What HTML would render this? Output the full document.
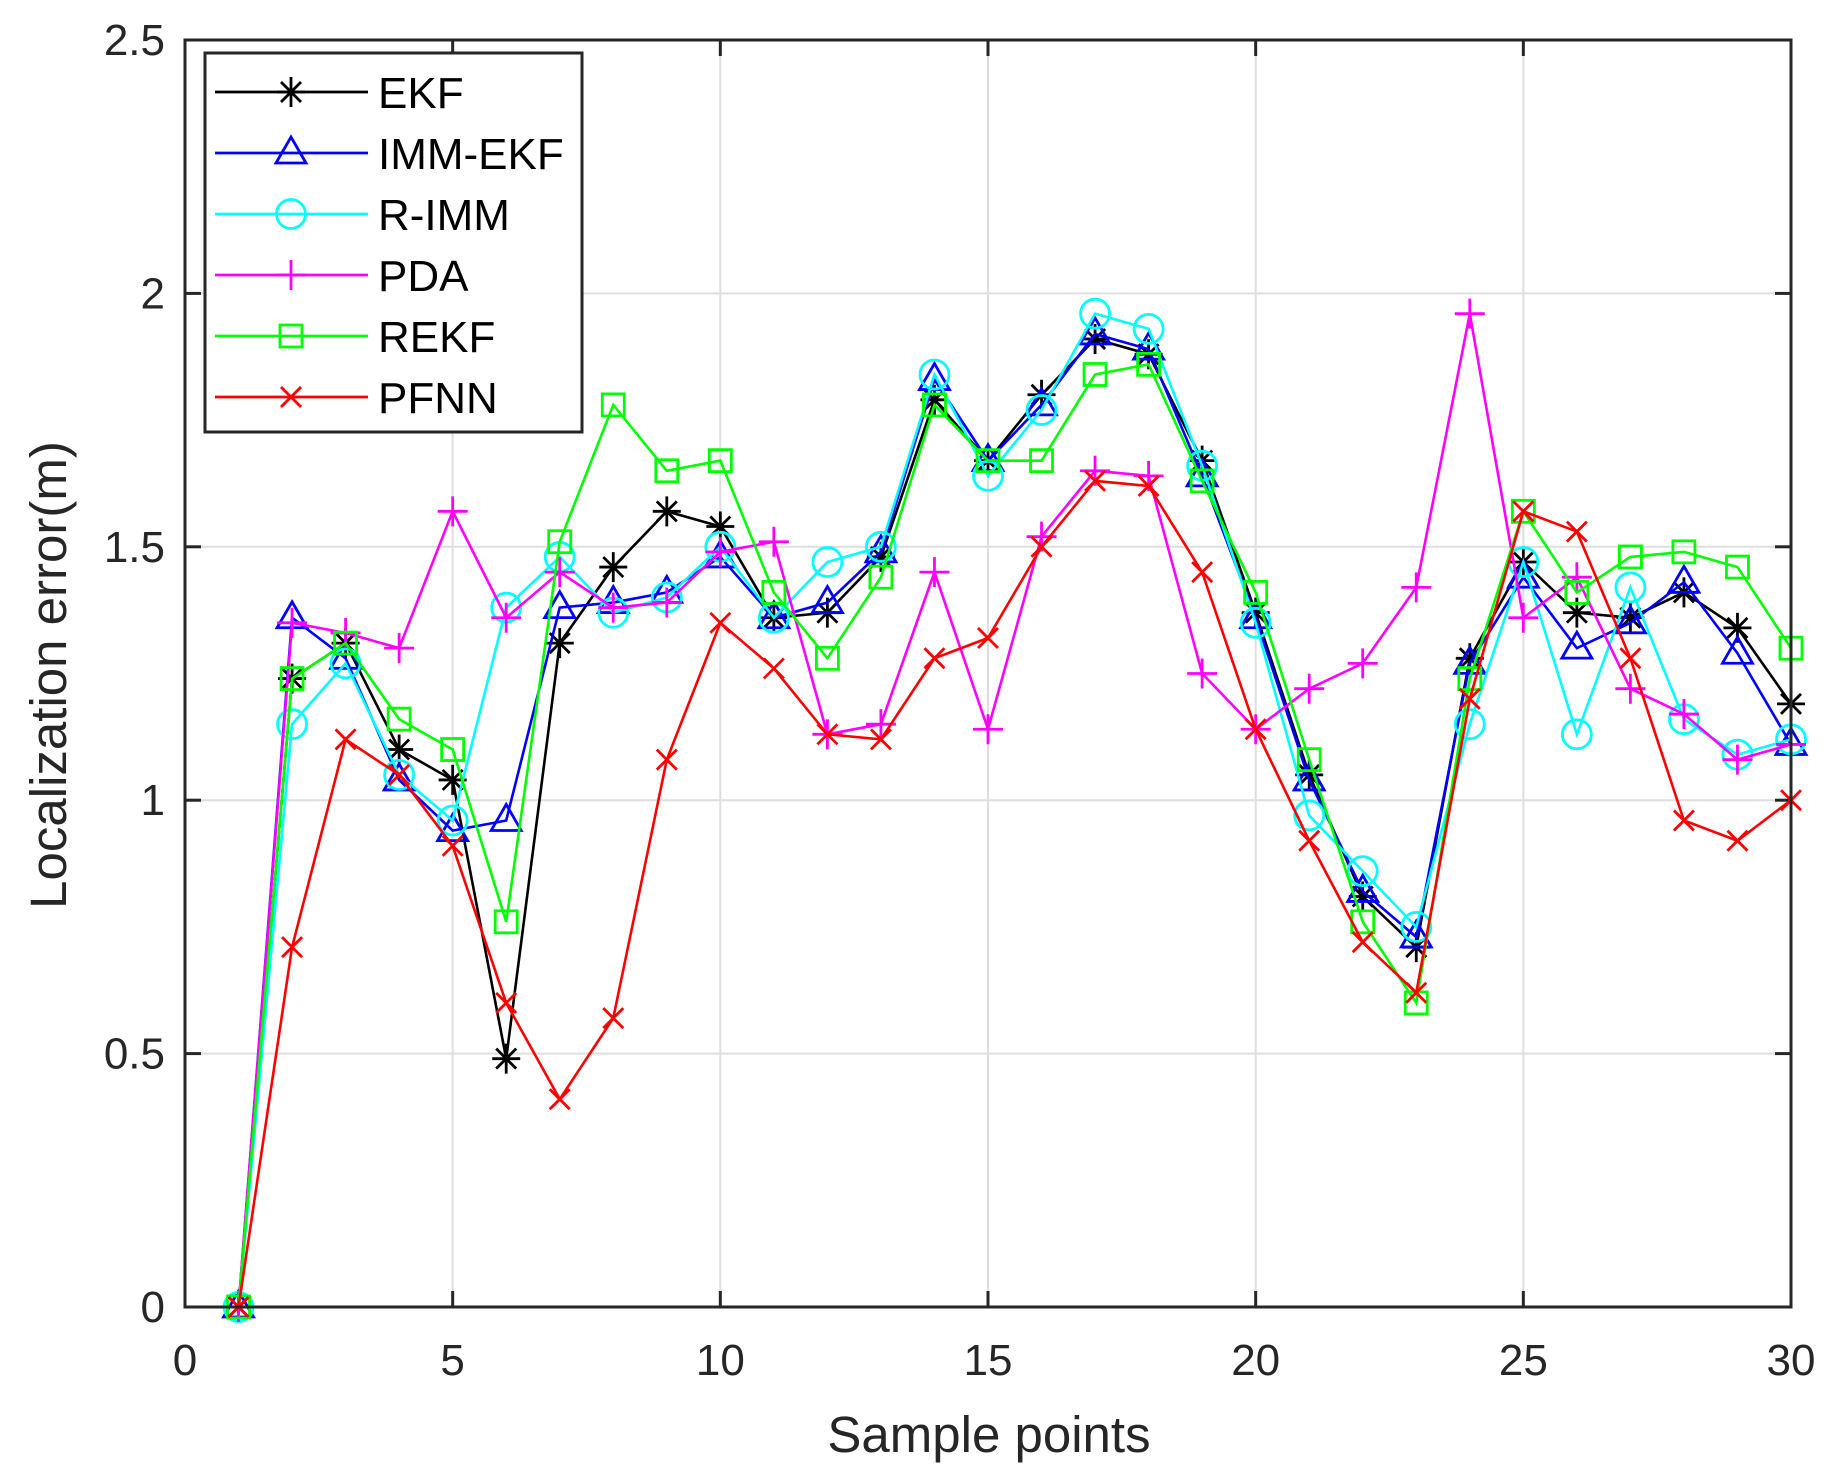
<!DOCTYPE html>
<html><head><meta charset="utf-8"><style>
html,body{margin:0;padding:0;background:#fff;}
svg{display:block;font-family:"Liberation Sans",Arial,sans-serif;}
</style></head><body>
<svg id="s" width="1839" height="1484" xmlns="http://www.w3.org/2000/svg"></svg>
<script>
const L=185,R=1791,T=40,B=1307;
const X=v=>L+(v)*(R-L)/30, Y=v=>B-v*(B-T)/2.5;
const s=document.getElementById('s');let h='';
for(let i=5;i<30;i+=5)h+=`<line x1="${X(i)}" y1="${T}" x2="${X(i)}" y2="${B}" stroke="#dedede" stroke-width="2"/>`;
for(let v=0.5;v<2.5;v+=0.5)h+=`<line x1="${L}" y1="${Y(v)}" x2="${R}" y2="${Y(v)}" stroke="#dedede" stroke-width="2"/>`;
for(let i=0;i<=30;i+=5){h+=`<line x1="${X(i)}" y1="${B}" x2="${X(i)}" y2="${B-16}" stroke="#262626" stroke-width="3"/><line x1="${X(i)}" y1="${T}" x2="${X(i)}" y2="${T+16}" stroke="#262626" stroke-width="3"/>`;
h+=`<text x="${X(i)}" y="${B+68}" font-size="44" fill="#262626" text-anchor="middle">${i}</text>`;}
for(let k=0;k<=5;k++){const v=k*0.5;h+=`<line x1="${L}" y1="${Y(v)}" x2="${L+16}" y2="${Y(v)}" stroke="#262626" stroke-width="3"/><line x1="${R}" y1="${Y(v)}" x2="${R-16}" y2="${Y(v)}" stroke="#262626" stroke-width="3"/>`;
h+=`<text x="${L-20}" y="${Y(v)+15}" font-size="44" fill="#262626" text-anchor="end">${k==0?'0':(v%1==0?v:v.toFixed(1))}</text>`;}
h+=`<text x="989" y="1452" font-size="51" fill="#262626" text-anchor="middle">Sample points</text>`;
h+=`<text transform="translate(66,675) rotate(-90)" font-size="51" fill="#262626" text-anchor="middle">Localization error(m)</text>`;
const S=[
['EKF','#000','star',[0,1.24,1.31,1.10,1.04,0.49,1.31,1.46,1.57,1.54,1.36,1.37,1.48,1.79,1.67,1.80,1.91,1.88,1.67,1.37,1.05,0.81,0.71,1.28,1.47,1.37,1.36,1.41,1.34,1.19]],
['IMM-EKF','#0000ff','tri',[0,1.36,1.28,1.04,0.94,0.96,1.38,1.39,1.41,1.48,1.36,1.39,1.49,1.83,1.67,1.78,1.92,1.89,1.64,1.36,1.04,0.82,0.73,1.27,1.44,1.30,1.35,1.43,1.29,1.11]],
['R-IMM','#00ffff','circ',[0,1.15,1.27,1.05,0.96,1.38,1.48,1.37,1.40,1.50,1.36,1.47,1.50,1.84,1.64,1.77,1.96,1.93,1.66,1.35,0.97,0.86,0.75,1.15,1.47,1.13,1.42,1.16,1.09,1.12]],
['PDA','#ff00ff','plus',[0,1.35,1.33,1.30,1.57,1.36,1.45,1.38,1.39,1.49,1.51,1.13,1.15,1.45,1.14,1.52,1.65,1.64,1.25,1.14,1.22,1.27,1.42,1.96,1.36,1.44,1.22,1.17,1.08,1.11]],
['REKF','#00ff00','sq',[0,1.24,1.31,1.16,1.10,0.76,1.51,1.78,1.65,1.67,1.41,1.28,1.44,1.78,1.67,1.67,1.84,1.86,1.63,1.41,1.08,0.76,0.60,1.24,1.57,1.41,1.48,1.49,1.46,1.30]],
['PFNN','#ff0000','x',[0,0.71,1.12,1.05,0.91,0.60,0.41,0.57,1.08,1.35,1.26,1.13,1.12,1.28,1.32,1.50,1.63,1.62,1.45,1.14,0.92,0.72,0.62,1.20,1.57,1.53,1.28,0.96,0.92,1.00]]];
function mk(t,x,y,c){const w=`stroke="${c}" stroke-width="2.8" fill="none"`;
if(t=='star')return `<path d="M${x-14} ${y}H${x+14}M${x} ${y-15}V${y+15}M${x-10} ${y-10}L${x+10} ${y+10}M${x-10} ${y+10}L${x+10} ${y-10}" ${w}/>`;
if(t=='tri')return `<path d="M${x} ${y-16}L${x+15} ${y+10}L${x-15} ${y+10}Z" ${w}/>`;
if(t=='circ')return `<circle cx="${x}" cy="${y}" r="14.5" ${w}/>`;
if(t=='plus')return `<path d="M${x-15} ${y}H${x+15}M${x} ${y-15}V${y+15}" ${w}/>`;
if(t=='sq')return `<rect x="${x-11}" y="${y-11}" width="22" height="22" ${w}/>`;
return `<path d="M${x-10} ${y-10}L${x+10} ${y+10}M${x-10} ${y+10}L${x+10} ${y-10}" ${w}/>`;}
for(const [n,c,t,d] of S){h+=`<polyline points="${d.map((v,i)=>X(i+1)+','+Y(v)).join(' ')}" fill="none" stroke="${c}" stroke-width="2.6"/>`;
d.forEach((v,i)=>h+=mk(t,X(i+1),Y(v),c));}
h+=`<rect x="${L}" y="${T}" width="${R-L}" height="${B-T}" fill="none" stroke="#262626" stroke-width="3"/>`;
h+=`<rect x="205" y="53" width="377" height="379" fill="#fff" stroke="#262626" stroke-width="3"/>`;
S.forEach(([n,c,t],i)=>{const y=92+i*61;h+=`<line x1="215" y1="${y}" x2="368" y2="${y}" stroke="${c}" stroke-width="2.8"/>`+mk(t,291,y,c)+`<text x="378" y="${y+16}" font-size="44" fill="#000">${n}</text>`;});
s.innerHTML=h;
</script>
</body></html>
